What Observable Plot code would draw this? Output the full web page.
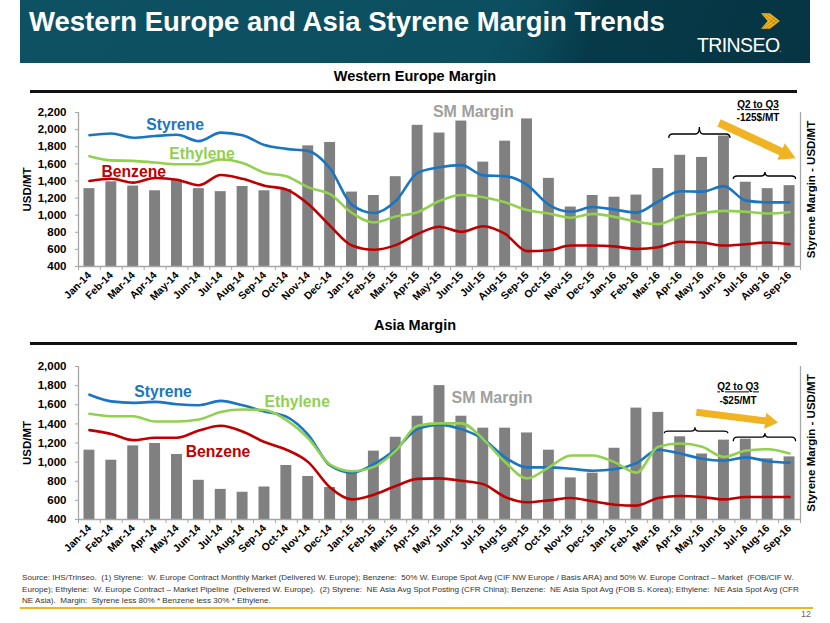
<!DOCTYPE html>
<html><head><meta charset="utf-8">
<script src="https://cdn.jsdelivr.net/npm/d3@7"></script>
<script src="https://cdn.jsdelivr.net/npm/@observablehq/plot@0.6"></script>
<style>
body{margin:0;width:830px;height:623px;position:relative;background:#fff;font-family:"Liberation Sans",Arial,sans-serif;overflow:hidden}
.banner{position:absolute;left:20px;top:0;width:790px;height:63px;background:linear-gradient(112deg,#0d5163 0%,#0c4f61 60%,#0a4858 66%,#073a49 72%,#063442 100%)}
.title{position:absolute;left:29px;top:6px;color:#fff;font-weight:bold;font-size:27.5px;white-space:nowrap}
.brand{position:absolute;left:697px;top:34px;color:#fff;font-size:19.5px;letter-spacing:-0.6px}
.sub{position:absolute;left:0;width:830px;text-align:center;font-weight:bold;font-size:14.5px;color:#000}
.hr{position:absolute;left:30px;width:767px;height:3px;background:#111}
.chart{position:absolute;left:0}
.chart svg{overflow:visible}
.foot{position:absolute;left:22px;top:572px;font-size:8.1px;line-height:11.5px;color:#333;white-space:nowrap}
.oline{position:absolute;left:20px;top:607px;width:793px;height:2px;background:#f0b323}
.page{position:absolute;left:801px;top:609px;font-size:9px;color:#666}
</style></head>
<body>
<div class="banner"></div>
<div class="title">Western Europe and Asia Styrene Margin Trends</div>
<svg style="position:absolute;left:761px;top:13px" width="20" height="16" viewBox="0 0 18 14">
  <path d="M0,0 L8,0 L17,7 L8,14 L0,14 L6,7 Z" fill="#f0b323"/>
  <path d="M2,1 L13,10 M2,13 L13,4 M5,0.5 L15,8 M5,13.5 L15,6" stroke="#b07d10" stroke-width="0.7"/>
</svg>
<div class="brand">TRINSEO<span style="font-size:7px">.</span></div>
<div class="sub" style="top:68px">Western Europe Margin</div>
<div class="hr" style="top:90px"></div>
<div id="we" class="chart" style="top:95px"></div>
<div class="sub" style="top:317px">Asia Margin</div>
<div class="hr" style="top:342px"></div>
<div id="asia" class="chart" style="top:345px"></div>
<div class="foot">Source: IHS/Trinseo.&nbsp; (1) Styrene:&nbsp; W. Europe Contract Monthly Market (Delivered W. Europe); Benzene:&nbsp; 50% W. Europe Spot Avg (CIF NW Europe / Basis ARA) and 50% W. Europe Contract – Market&nbsp; (FOB/CIF W.<br>Europe); Ethylene:&nbsp; W. Europe Contract – Market Pipeline&nbsp; (Delivered W. Europe).&nbsp; (2) Styrene:&nbsp; NE Asia Avg Spot Posting (CFR China); Benzene:&nbsp; NE Asia Spot Avg (FOB S. Korea); Ethylene:&nbsp; NE Asia Spot Avg (CFR<br>NE Asia).&nbsp; Margin:&nbsp; Styrene less 80% * Benzene less 30% * Ethylene.</div>
<div class="oline"></div>
<div class="page">12</div>
<script>
const months = ["Jan-14","Feb-14","Mar-14","Apr-14","May-14","Jun-14","Jul-14","Aug-14","Sep-14","Oct-14","Nov-14","Dec-14",
  "Jan-15","Feb-15","Mar-15","Apr-15","May-15","Jun-15","Jul-15","Aug-15","Sep-15","Oct-15","Nov-15","Dec-15",
  "Jan-16","Feb-16","Mar-16","Apr-16","May-16","Jun-16","Jul-16","Aug-16","Sep-16"];

// Western Europe (USD/MT)
const weMargin   = [1310,1390,1340,1285,1410,1310,1275,1335,1285,1300,1810,1850,1270,1230,1450,2050,1960,2100,1620,1865,2125,1430,1095,1230,1210,1235,1545,1700,1675,1925,1385,1310,1345];
const weStyrene  = [1935,1955,1905,1925,1940,1865,1965,1935,1820,1775,1750,1545,1120,1025,1165,1495,1560,1585,1465,1455,1355,1120,1040,1095,1065,1030,1160,1280,1275,1340,1170,1150,1150];
const weEthylene = [1690,1640,1635,1615,1595,1595,1650,1610,1495,1455,1325,1245,1025,915,985,1035,1165,1235,1210,1150,1060,1020,970,1015,980,925,895,985,1025,1050,1040,1020,1035];
const weBenzene  = [1400,1425,1380,1435,1415,1350,1470,1425,1345,1300,1130,875,645,595,650,780,865,805,870,780,580,590,645,645,635,605,625,690,680,645,660,680,660];

// Asia (USD/MT)
const asMargin   = [1125,1020,1170,1195,1080,810,715,685,740,965,850,735,905,1115,1260,1480,1800,1480,1355,1355,1305,1125,835,885,1145,1565,1520,1265,1085,1230,1240,1035,1055];
const asStyrene  = [1705,1635,1620,1630,1605,1595,1640,1595,1530,1475,1285,965,890,980,1135,1345,1390,1345,1240,1050,945,945,930,910,925,990,1130,1090,1035,1015,1050,1010,995];
const asEthylene = [1505,1480,1480,1425,1425,1445,1525,1550,1545,1440,1250,975,905,950,1120,1380,1405,1405,1240,1000,830,945,1070,1070,1000,890,1160,1195,1160,1055,1120,1135,1090];
const asBenzene  = [1335,1295,1230,1255,1255,1330,1380,1320,1210,1130,1000,735,610,660,750,825,830,805,770,635,580,600,625,590,555,545,625,645,635,610,635,635,635];

const seriesColors = ["#1a75c2","#92d050","#c00000"];
const marginLabel = "SM Margin";
const marginColor = "#808080";

// annotation anchors (month index, USD/MT)
const weLabels = [{x:2.6,y:2050,t:"Styrene",c:0},{x:3.65,y:1710,t:"Ethylene",c:1},{x:0.55,y:1510,t:"Benzene",c:2}];
const asLabels = [{x:2.05,y:1736,t:"Styrene",c:0},{x:8.0,y:1632,t:"Ethylene",c:1},{x:4.4,y:1110,t:"Benzene",c:2}];

function chart(el, cfg) {
  const rows = months.map((m, i) => ({i, m, bar: cfg.bars[i], s: cfg.lines[0][i], e: cfg.lines[1][i], b: cfg.lines[2][i]}));
  const lineKeys = ["s","e","b"];
  const yTicks = d3.range(400, cfg.yMax + 1, 200);
  const axisColor = "#a6a6a6";
  const p = Plot.plot({
    width: 830, height: cfg.height,
    marginLeft: 78, marginRight: 30, marginTop: cfg.marginTop, marginBottom: cfg.marginBottom,
    style: {fontFamily: "'Liberation Sans', Arial, sans-serif", fontWeight: "bold", fontSize: "11px", color: "#000", background: "transparent", overflow: "visible"},
    x: {domain: [-0.5, months.length - 0.5]},
    y: {domain: [400, cfg.yMax]},
    marks: [
      Plot.rectY(rows, {x1: d => d.i - 0.25, x2: d => d.i + 0.25, y1: 400, y2: "bar", fill: marginColor}),
      ...lineKeys.map((k, j) => Plot.line(rows, {x: "i", y: k, stroke: seriesColors[j], strokeWidth: 2.6, curve: "monotone-x"})),
      Plot.ruleX([-0.5, months.length - 0.5], {stroke: axisColor, strokeWidth: 1.3}),
      Plot.ruleY([400], {stroke: axisColor, strokeWidth: 1.3}),
      Plot.axisY({ticks: yTicks, tickFormat: d3.format(","), tickSize: 3, tickPadding: 9, stroke: axisColor, fontSize: 11.5,
        label: "USD/MT", labelAnchor: "center", labelOffset: 56, labelArrow: "none"}),
      Plot.axisY({anchor: "right", ticks: [], tickSize: 0, label: "Styrene Margin - USD/MT", labelAnchor: "center", labelOffset: 14, labelArrow: "none", fontSize: 11.5}),
      Plot.axisX({ticks: d3.range(-0.5, months.length, 1), tickFormat: () => "", tickSize: 4, stroke: axisColor}),
      Plot.axisX({ticks: d3.range(months.length), tickFormat: i => months[i], tickSize: 0, tickRotate: -45, tickPadding: 7, fontSize: 10.5}),
      Plot.text(cfg.labels, {x: "x", y: "y", text: "t", fill: d => seriesColors[d.c], fontSize: 15.7, fontWeight: "bold", textAnchor: "start"}),
      Plot.text([cfg.sm], {x: "x", y: "y", text: () => marginLabel, fill: "#a0a0a0", fontSize: 16, fontWeight: "bold", textAnchor: "start"})
    ]
  });
  el.appendChild(p);
  const x = p.scale("x"), y = p.scale("y");
  const svg = d3.select(p);
  // braces
  for (const br of cfg.braces) {
    const x1 = x.apply(br.x1), x2 = x.apply(br.x2), xm = x.apply(br.xm);
    const ye = y.apply(br.yEnd), yb = y.apply(br.yBody), yp = y.apply(br.yPeak);
    const r = 4;
    svg.append("path")
      .attr("d", `M${x1},${ye} Q${x1},${yb} ${x1 + r},${yb} L${xm - r},${yb} Q${xm},${yb} ${xm},${yp} Q${xm},${yb} ${xm + r},${yb} L${x2 - r},${yb} Q${x2},${yb} ${x2},${ye}`)
      .attr("fill", "none").attr("stroke", "#000").attr("stroke-width", 1.3);
  }
  // arrow
  const a = cfg.arrow;
  const sx = x.apply(a.x1), sy = y.apply(a.y1), tx = x.apply(a.x2), ty = y.apply(a.y2);
  const len = Math.hypot(tx - sx, ty - sy), ux = (tx - sx) / len, uy = (ty - sy) / len, nx = -uy, ny = ux;
  const hw = a.shaft / 2, hh = a.head / 2, hl = a.headLen;
  const bx = tx - ux * hl, by = ty - uy * hl;
  const pts = [[sx + nx * hw, sy + ny * hw], [bx + nx * hw, by + ny * hw], [bx + nx * hh, by + ny * hh], [tx, ty],
    [bx - nx * hh, by - ny * hh], [bx - nx * hw, by - ny * hw], [sx - nx * hw, sy - ny * hw]];
  svg.append("polygon").attr("points", pts.map(q => q.join(",")).join(" ")).attr("fill", "#f0b323");
  // note
  const n = cfg.note;
  svg.append("text").attr("x", x.apply(n.x)).attr("y", y.apply(n.y1)).attr("text-anchor", "middle")
    .attr("font-size", 10).attr("font-weight", "bold").attr("text-decoration", "underline").text("Q2 to Q3");
  svg.append("text").attr("x", x.apply(n.x)).attr("y", y.apply(n.y2)).attr("text-anchor", "middle")
    .attr("font-size", 10).attr("font-weight", "bold").text(n.t);
}

chart(document.getElementById("we"), {
  bars: weMargin, lines: [weStyrene, weEthylene, weBenzene], yMax: 2200,
  height: 221, marginTop: 17, marginBottom: 50,
  labels: weLabels, sm: {x: 15.7, y: 2210},
  braces: [{x1: 26.5, x2: 29.3, xm: 27.9, yEnd: 1896, yBody: 1943, yPeak: 2025},
           {x1: 29.45, x2: 32.3, xm: 30.9, yEnd: 1417, yBody: 1452, yPeak: 1499}],
  arrow: {x1: 28.8, y1: 2072, x2: 32.3, y2: 1660, shaft: 8, head: 18, headLen: 16},
  note: {x: 30.58, y1: 2245, y2: 2095, t: "-125$/MT"}
});
chart(document.getElementById("asia"), {
  bars: asMargin, lines: [asStyrene, asEthylene, asBenzene], yMax: 2000,
  height: 219, marginTop: 21, marginBottom: 45,
  labels: asLabels, sm: {x: 16.55, y: 1674},
  braces: [{x1: 26.3, x2: 29.2, xm: 27.7, yEnd: 1298, yBody: 1319, yPeak: 1360},
           {x1: 29.45, x2: 32.3, xm: 30.9, yEnd: 1214, yBody: 1256, yPeak: 1298}],
  arrow: {x1: 27.76, y1: 1517, x2: 31.5, y2: 1410, shaft: 7, head: 16, headLen: 13},
  note: {x: 29.67, y1: 1745, y2: 1600, t: "-$25/MT"}
});
</script>
</body></html>
